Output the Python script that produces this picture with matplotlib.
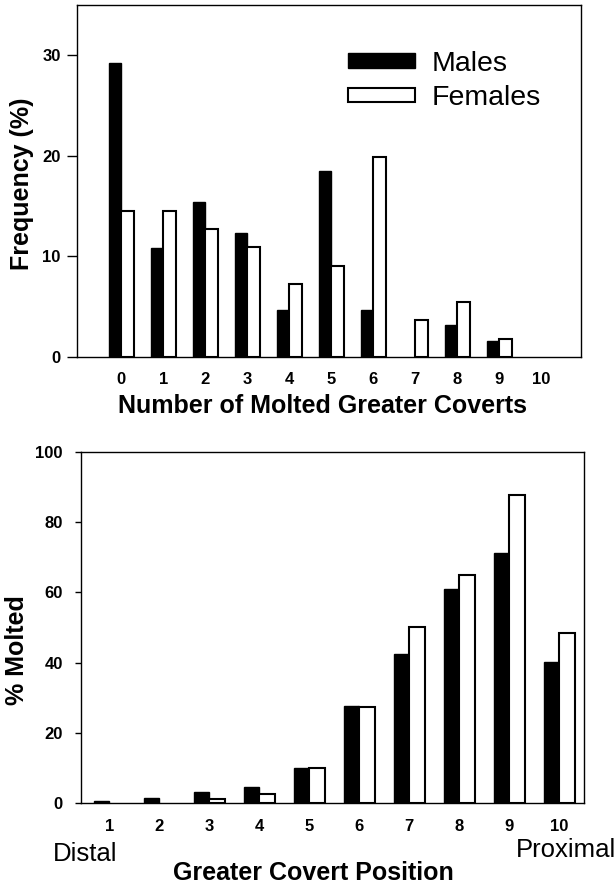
import matplotlib
matplotlib.use("Agg")
import matplotlib.pyplot as plt
import numpy as np

plt.rcParams["font.family"] = ["Liberation Sans", "DejaVu Sans"]

# Top panel: frequency of number of molted greater coverts
n_molted = [0, 1, 2, 3, 4, 5, 6, 7, 8, 9, 10]
freq_males = [29.2, 10.8, 15.4, 12.3, 4.6, 18.5, 4.6, 0.0, 3.1, 1.6, 0.0]
freq_females = [14.5, 14.5, 12.7, 10.9, 7.2, 9.0, 19.9, 3.6, 5.4, 1.8, 0.0]

# Bottom panel: percent molted by covert position
positions = [1, 2, 3, 4, 5, 6, 7, 8, 9, 10]
molt_males = [0.8, 1.6, 3.2, 4.6, 10.1, 27.8, 42.6, 61.0, 71.2, 40.2]
molt_females = [0.0, 0.0, 1.1, 2.7, 10.1, 27.4, 50.1, 64.9, 87.6, 48.3]

fig = plt.figure(figsize=(6.16, 8.85), dpi=100)
ax1 = fig.add_axes([0.1255, 0.597, 0.8176, 0.3977])
ax2 = fig.add_axes([0.131, 0.0923, 0.817, 0.3973])


def _style(ax, ylen, ypad):
    for s in ax.spines.values():
        s.set_linewidth(1.0)
    ax.tick_params(axis="y", direction="out", length=ylen, width=1, pad=ypad)
    ax.tick_params(axis="x", length=0, pad=11)
    for lab in ax.get_xticklabels() + ax.get_yticklabels():
        lab.set_fontsize(12)
        lab.set_fontweight("bold")


def _hide_empty(bars):
    for b in bars:
        if b.get_height() == 0:
            b.set_visible(False)


# top panel
w1 = 0.3
x1 = np.array(n_molted)
_hide_empty(ax1.bar(x1 - w1 / 2, freq_males, w1, color="black", edgecolor="black",
                    linewidth=1.0, label="Males"))
_hide_empty(ax1.bar(x1 + w1 / 2, freq_females, w1, color="white", edgecolor="black",
                    linewidth=1.5, label="Females"))
ax1.set_xlim(-1.05, 10.95)
ax1.set_ylim(0, 35)
ax1.set_xticks(x1)
ax1.set_yticks([0, 10, 20, 30])
_style(ax1, 7, 5)
ax1.set_xlabel("Number of Molted Greater Coverts", fontsize=18, fontweight="bold", va="baseline")
ax1.xaxis.set_label_coords(0.486, -0.16)
ax1.set_ylabel("Frequency (%)", fontsize=18, fontweight="bold", va="center")
ax1.yaxis.set_label_coords(-0.11, 0.49)
ax1.legend(loc="upper left", bbox_to_anchor=(0.537, 0.869), frameon=False,
           fontsize=20.5, handlelength=2.35, handleheight=0.4, handletextpad=0.6,
           labelspacing=0.3, borderpad=0, borderaxespad=0)

# bottom panel
w2 = 0.31
x2 = np.array(positions)
_hide_empty(ax2.bar(x2 - w2 / 2, molt_males, w2, color="black", edgecolor="black", linewidth=1.0))
_hide_empty(ax2.bar(x2 + w2 / 2, molt_females, w2, color="white", edgecolor="black", linewidth=1.5))
ax2.set_xlim(0.43, 10.49)
ax2.set_ylim(0, 100)
ax2.set_xticks(x2)
ax2.set_yticks([0, 20, 40, 60, 80, 100])
_style(ax2, 4, 9)
ax2.set_xlabel("Greater Covert Position", fontsize=18, fontweight="bold", va="baseline")
ax2.xaxis.set_label_coords(0.4616, -0.219)
ax2.set_ylabel("% Molted", fontsize=18, fontweight="bold", va="center")
ax2.yaxis.set_label_coords(-0.1266, 0.436)
fig.text(53 / 616, 1 - 854 / 885, "Distal", fontsize=18.5, ha="left", va="center")
fig.text(1.0, 1 - 850 / 885, "Proximal", fontsize=18.5, ha="right", va="center")

fig.savefig("out.png", dpi=100)
